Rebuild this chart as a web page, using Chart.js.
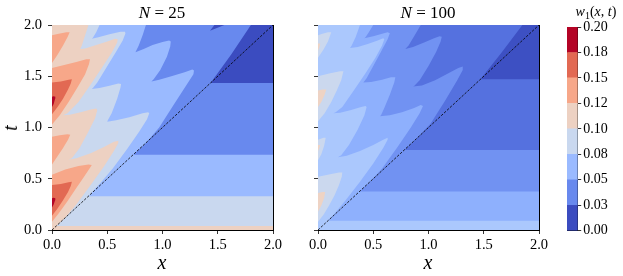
<!DOCTYPE html>
<html>
<head>
<meta charset="utf-8">
<script src="https://cdn.jsdelivr.net/npm/chart.js@4.4.1/dist/chart.umd.min.js"></script>
<style>
body { margin: 0; background: #fff; }
#wrap { position: relative; width: 623px; height: 276px; overflow: hidden; }
canvas { position: absolute; top: 0; }
.lbl { position: absolute; font-family: 'Liberation Serif', serif; color: #000; white-space: nowrap; transform: translate(-50%, -50%); line-height: 1; }
</style>
</head>
<body>
<div id="wrap">
  <canvas id="c25" width="290" height="276" style="left:0"></canvas>
  <canvas id="c100" width="260" height="276" style="left:300px"></canvas>
  <canvas id="cbar" width="68" height="276" style="left:555px"></canvas>
  <div class="lbl" style="left:162px;top:12px;font-size:17px"><i>N</i> = 25</div>
  <div class="lbl" style="left:428px;top:12px;font-size:17px"><i>N</i> = 100</div>
  <div class="lbl" style="left:162px;top:262px;font-size:20px"><i>x</i></div>
  <div class="lbl" style="left:428px;top:262px;font-size:20px"><i>x</i></div>
  <div class="lbl" style="left:10px;top:128px;font-size:20px;transform:translate(-50%,-50%) rotate(-90deg)"><i>t</i></div>
  <div class="lbl" style="left:596px;top:13px;font-size:14px"><i>w</i><sub style="font-size:10px">1</sub>(<i>x</i>, <i>t</i>)</div>
</div>
<script>
// axis ticks and colour levels
var xyTicks = [0, 0.5, 1, 1.5, 2];
var cbarTickLabels = ['0.00', '0.03', '0.05', '0.08', '0.10', '0.12', '0.15', '0.18', '0.20'];
var cbarStep = 0.025;
var n25Colors = ['#3b4cc0', '#6889ee', '#9abaff', '#c9d8ef', '#edd1c2', '#f7a789', '#e26953', '#b40426'];
var n100Colors = ['#3d50c3', '#5571df', '#7192f2', '#8eb0fd', '#abc8fd', '#cbd8ee', '#eed3c4'];
var diagonalLine = [0, 2];
var plotFrame = [[0, 0], [0, 2], [2, 2], [2, 0]];

// N = 25 : region w >= level, [x, t] outlines
var n25Lvl1 = [[0,0],[0,2],[1.47,2],[1.43,1.945],[1.56,2],[1.8,2],[1.62,1.71],[1.435,1.435],[2,1.435],[2,0]];
var n25Lvl2 = [[0,0],[0,2],[0.85,2],[0.82,1.9],[0.785,1.8],[0.755,1.735],[0.83,1.765],[0.91,1.805],[1.0,1.835],[1.06,1.85],[1.075,1.84],[1.07,1.79],[1.04,1.69],[0.98,1.56],[0.92,1.47],[0.9,1.45],[0.97,1.465],[1.08,1.5],[1.2,1.54],[1.27,1.565],[1.285,1.555],[1.28,1.52],[1.22,1.42],[1.1,1.22],[0.97,1.0],[0.85,0.85],[0.733,0.733],[2,0.733],[2,0]];
var n25Lvl3 = [[0,0],[0,2],[0.43,2],[0.4,1.93],[0.37,1.875],[0.36,1.865],[0.42,1.88],[0.52,1.91],[0.62,1.935],[0.66,1.935],[0.665,1.92],[0.64,1.85],[0.58,1.74],[0.49,1.58],[0.41,1.44],[0.37,1.385],[0.36,1.375],[0.43,1.385],[0.53,1.41],[0.6,1.43],[0.625,1.425],[0.62,1.39],[0.59,1.28],[0.54,1.14],[0.505,1.07],[0.5,1.055],[0.58,1.07],[0.7,1.1],[0.82,1.14],[0.87,1.15],[0.88,1.14],[0.86,1.08],[0.79,0.96],[0.68,0.79],[0.55,0.6],[0.44,0.46],[0.33,0.33],[2,0.33],[2,0]];
var n25Lvl4 = [[0,0],[0,2],[0.33,2],[0.3,1.9],[0.27,1.8],[0.255,1.765],[0.3,1.77],[0.4,1.805],[0.5,1.84],[0.57,1.865],[0.595,1.86],[0.59,1.83],[0.54,1.73],[0.45,1.58],[0.35,1.42],[0.24,1.25],[0.14,1.14],[0.1,1.12],[0.16,1.125],[0.26,1.15],[0.35,1.175],[0.4,1.185],[0.41,1.17],[0.39,1.09],[0.33,0.96],[0.25,0.8],[0.18,0.7],[0.15,0.685],[0.22,0.7],[0.35,0.75],[0.47,0.81],[0.56,0.86],[0.6,0.87],[0.6,0.85],[0.56,0.77],[0.47,0.62],[0.35,0.44],[0.22,0.25],[0.12,0.12],[0.04,0.04],[2,0.04],[2,0]];
var n25Lvl5a = [[0,0.08],[0.06,0.16],[0.14,0.28],[0.22,0.41],[0.29,0.52],[0.34,0.6],[0.36,0.635],[0.33,0.64],[0.24,0.625],[0.12,0.59],[0,0.54]];
var n25Lvl5b = [[0,0.64],[0.05,0.72],[0.1,0.8],[0.145,0.88],[0.165,0.93],[0.14,0.935],[0.07,0.925],[0,0.91]];
var n25Lvl5c = [[0,1.03],[0.07,1.12],[0.15,1.25],[0.23,1.39],[0.3,1.52],[0.335,1.62],[0.344,1.667],[0.31,1.665],[0.22,1.64],[0.11,1.61],[0,1.58]];
var n25Lvl5d = [[0,1.63],[0.05,1.71],[0.1,1.8],[0.14,1.88],[0.16,1.93],[0.13,1.93],[0.06,1.915],[0,1.9]];
var n25Lvl6a = [[0,0.14],[0.05,0.21],[0.1,0.29],[0.145,0.37],[0.17,0.43],[0.18,0.47],[0.15,0.465],[0.08,0.45],[0,0.44]];
var n25Lvl6c = [[0,1.13],[0.05,1.2],[0.1,1.28],[0.145,1.37],[0.17,1.43],[0.18,1.47],[0.15,1.465],[0.08,1.45],[0,1.44]];
var n25Lvl7a = [[0,0.22],[0.015,0.25],[0.028,0.29],[0.03,0.31],[0.015,0.315],[0,0.31]];
var n25Lvl7c = [[0,1.2],[0.015,1.23],[0.028,1.28],[0.03,1.3],[0.015,1.305],[0,1.3]];

// N = 100
var n100Lvl1 = [[0,0],[0,2],[1.85,2],[1.66,1.73],[1.47,1.47],[2,1.47],[2,0]];
var n100Lvl2 = [[0,0],[0,2],[0.93,2],[0.87,1.89],[0.82,1.8],[0.79,1.765],[0.86,1.785],[0.96,1.83],[1.05,1.87],[1.1,1.89],[1.12,1.885],[1.11,1.84],[1.07,1.74],[1.0,1.6],[0.92,1.46],[0.87,1.405],[0.86,1.4],[0.94,1.41],[1.06,1.46],[1.18,1.53],[1.27,1.58],[1.31,1.595],[1.31,1.56],[1.26,1.46],[1.15,1.26],[1.02,1.04],[0.9,0.9],[0.78,0.78],[2,0.78],[2,0]];
var n100Lvl3 = [[0,0],[0,2],[0.5,2],[0.46,1.93],[0.43,1.88],[0.42,1.87],[0.5,1.89],[0.58,1.915],[0.63,1.93],[0.65,1.92],[0.63,1.86],[0.57,1.74],[0.5,1.6],[0.44,1.48],[0.41,1.44],[0.48,1.445],[0.58,1.465],[0.66,1.49],[0.7,1.49],[0.69,1.44],[0.65,1.32],[0.6,1.19],[0.57,1.12],[0.56,1.11],[0.65,1.12],[0.76,1.15],[0.87,1.19],[0.93,1.22],[0.95,1.21],[0.92,1.14],[0.84,1.0],[0.72,0.81],[0.58,0.6],[0.47,0.47],[0.375,0.375],[2,0.375],[2,0]];
var n100Lvl4 = [[0,0],[0,2],[0.38,2],[0.34,1.88],[0.305,1.8],[0.29,1.775],[0.36,1.785],[0.45,1.815],[0.54,1.85],[0.59,1.87],[0.6,1.86],[0.58,1.8],[0.52,1.68],[0.43,1.53],[0.33,1.37],[0.22,1.2],[0.16,1.15],[0.14,1.14],[0.2,1.145],[0.3,1.17],[0.39,1.2],[0.43,1.21],[0.44,1.2],[0.42,1.12],[0.36,0.98],[0.28,0.83],[0.21,0.73],[0.18,0.71],[0.26,0.725],[0.38,0.77],[0.5,0.83],[0.59,0.88],[0.63,0.9],[0.63,0.88],[0.59,0.8],[0.5,0.65],[0.38,0.47],[0.25,0.29],[0.15,0.16],[0.09,0.09],[2,0.09],[2,0]];
var n100Lvl5a = [[0,0.08],[0.05,0.15],[0.1,0.24],[0.15,0.34],[0.19,0.44],[0.215,0.52],[0.22,0.56],[0.19,0.56],[0.11,0.545],[0,0.52]];
var n100Lvl5b = [[0,0.68],[0.03,0.74],[0.055,0.82],[0.07,0.9],[0.05,0.9],[0,0.88]];
var n100Lvl5c = [[0,1.06],[0.06,1.14],[0.12,1.25],[0.17,1.36],[0.21,1.46],[0.23,1.55],[0.2,1.55],[0.11,1.53],[0,1.5]];
var n100Lvl5d = [[0,1.68],[0.05,1.76],[0.09,1.84],[0.12,1.93],[0.09,1.93],[0.04,1.915],[0,1.9]];
var n100Lvl6a = [[0,0.18],[0.03,0.24],[0.055,0.31],[0.065,0.37],[0.04,0.37],[0,0.36]];
var n100Lvl6b = [[0,0.77],[0.012,0.8],[0.02,0.83],[0,0.83]];
var n100Lvl6c = [[0,1.2],[0.03,1.25],[0.06,1.32],[0.075,1.37],[0.04,1.37],[0,1.36]];
var n100Lvl6d = [[0,1.75],[0.012,1.78],[0.02,1.82],[0,1.82]];

var n25Layers = [[plotFrame], [n25Lvl1], [n25Lvl2], [n25Lvl3], [n25Lvl4],
  [n25Lvl5a, n25Lvl5b, n25Lvl5c, n25Lvl5d], [n25Lvl6a, n25Lvl6c], [n25Lvl7a, n25Lvl7c]];
var n100Layers = [[plotFrame], [n100Lvl1], [n100Lvl2], [n100Lvl3], [n100Lvl4],
  [n100Lvl5a, n100Lvl5b, n100Lvl5c, n100Lvl5d], [n100Lvl6a, n100Lvl6b, n100Lvl6c, n100Lvl6d]];

Chart.defaults.font.family = "'Liberation Serif', serif";
Chart.defaults.color = '#000';

// the filler clips a 'shape' between its first and last point, so a lobe
// that starts on the left edge is walked again up to its tip
function outlinePath(pts) {
    var iMax = 0;
    pts.forEach(function (p, i) { if (p[0] > pts[iMax][0]) iMax = i; });
    var path = iMax === pts.length - 1 ? pts : pts.concat(pts.slice(0, iMax + 1));
    return path.map(function (p) { return {x: p[0], y: p[1]}; });
}

function borderOnly(pos, axis) {
    return {
        type: 'linear', position: pos, min: 0, max: 2,
        ticks: {display: false},
        grid: {display: false, drawTicks: false},
        border: {display: true, color: '#000', width: 1},
        afterFit: function (s) { if (axis === 'x') s.height = 0; else s.width = 0; }
    };
}

function makePanel(id, layers, colors, yWidth, rightPad, yLabels) {
    var datasets = [];
    layers.forEach(function (polys, k) {
        polys.forEach(function (poly) {
            datasets.push({
                data: outlinePath(poly), fill: 'shape', backgroundColor: colors[k],
                borderColor: 'rgba(0,0,0,0)', borderWidth: 0, pointRadius: 0,
                pointHoverRadius: 0, tension: 0, order: 100 - k, xAxisID: 'x', yAxisID: 'y'
            });
        });
    });
    // x = t line
    datasets.push({
        data: diagonalLine.map(function (v) { return {x: v, y: v}; }),
        fill: false, borderColor: '#000', borderWidth: 0.8, borderDash: [2.5, 1.5],
        pointRadius: 0, order: 0, xAxisID: 'x', yAxisID: 'y'
    });
    var tickGrid = {display: true, drawOnChartArea: false, drawTicks: true, tickLength: 4, color: '#000', lineWidth: 0.8};
    return new Chart(document.getElementById(id), {
        type: 'line',
        data: {datasets: datasets},
        options: {
            responsive: false, animation: false, events: [],
            layout: {padding: {top: 25, right: rightPad, left: 0, bottom: 0}},
            plugins: {legend: {display: false}, tooltip: {enabled: false}},
            scales: {
                x: {
                    type: 'linear', position: 'bottom', min: 0, max: 2,
                    afterBuildTicks: function (s) { s.ticks = xyTicks.map(function (v) { return {value: v}; }); },
                    ticks: {callback: function (v) { return v.toFixed(1); }, font: {size: 14.5}, padding: 2, maxRotation: 0, autoSkip: false},
                    grid: tickGrid,
                    border: {display: true, color: '#000', width: 1},
                    afterFit: function (s) { s.height = 46; }
                },
                y: {
                    type: 'linear', position: 'left', min: 0, max: 2,
                    afterBuildTicks: function (s) { s.ticks = xyTicks.map(function (v) { return {value: v}; }); },
                    ticks: {display: yLabels, callback: function (v) { return v.toFixed(1); }, font: {size: 14.5}, padding: 6, autoSkip: false},
                    grid: tickGrid,
                    border: {display: true, color: '#000', width: 1},
                    afterFit: function (s) { s.width = yWidth; }
                },
                x2: borderOnly('top', 'x'),
                y2: borderOnly('right', 'y')
            }
        }
    });
}

makePanel('c25', n25Layers, n25Colors, 52, 17, true);
makePanel('c100', n100Layers, n100Colors, 18, 21, false);

// colour bar: one stacked bar, one segment per level band
var cbarSets = n25Colors.map(function (c) {
    return {data: [cbarStep], backgroundColor: c, borderWidth: 0, barPercentage: 1, categoryPercentage: 1, xAxisID: 'x', yAxisID: 'y'};
});
new Chart(document.getElementById('cbar'), {
    type: 'bar',
    data: {labels: [''], datasets: cbarSets},
    options: {
        responsive: false, animation: false, events: [],
        layout: {padding: {top: 27, left: 12, right: 0, bottom: 0}},
        plugins: {legend: {display: false}, tooltip: {enabled: false}},
        scales: {
            x: {
                stacked: true, ticks: {display: false}, grid: {display: false, drawTicks: false},
                border: {display: true, color: '#000', width: 1},
                afterFit: function (s) { s.height = 45.3; }
            },
            y: {
                stacked: true, position: 'right', min: 0, max: 0.2,
                ticks: {stepSize: cbarStep, autoSkip: false, font: {size: 14}, padding: 2,
                    callback: function (v) { return cbarTickLabels[Math.round(v / cbarStep)]; }},
                grid: {display: true, drawOnChartArea: false, tickLength: 3.5, color: '#000', lineWidth: 0.8},
                border: {display: true, color: '#000', width: 1},
                afterFit: function (s) { s.width = 45.3; }
            },
            x2: {type: 'linear', position: 'top', min: 0, max: 1, ticks: {display: false}, grid: {display: false, drawTicks: false},
                border: {display: true, color: '#000', width: 1}, afterFit: function (s) { s.height = 0; }},
            y2: {type: 'linear', position: 'left', min: 0, max: 1, ticks: {display: false}, grid: {display: false, drawTicks: false},
                border: {display: true, color: '#000', width: 1}, afterFit: function (s) { s.width = 0; }}
        }
    }
});
</script>
</body>
</html>
